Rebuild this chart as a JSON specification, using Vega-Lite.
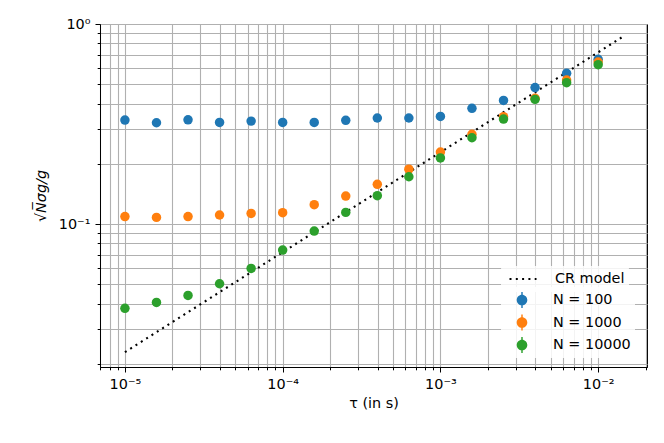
{
  "$schema": "https://vega.github.io/schema/vega-lite/v6.json",
  "width": 547,
  "height": 343,
  "autosize": {"type": "none"},
  "padding": {"left": 100, "top": 24, "right": 17, "bottom": 76},
  "background": "white",
  "config": {
    "view": {"stroke": "black", "strokeWidth": 1},
    "font": "DejaVu Sans",
    "axis": {
      "grid": true,
      "gridColor": "#b0b0b0",
      "gridWidth": 1.1,
      "domainColor": "black",
      "domainWidth": 1,
      "tickColor": "black",
      "tickWidth": 1,
      "labelFont": "DejaVu Sans",
      "labelFontSize": 14.4,
      "labelColor": "black",
      "labelOverlap": false,
      "labelFlush": false,
      "titleFont": "DejaVu Sans",
      "titleFontSize": 14.4,
      "titleFontWeight": "normal",
      "titleColor": "black"
    },
    "legend": {
      "orient": "none",
      "padding": 4,
      "clipHeight": 18,
      "rowPadding": 4.5,
      "labelFont": "DejaVu Sans",
      "labelFontSize": 14.4,
      "labelColor": "black",
      "labelLimit": 0,
      "fillColor": "rgba(255,255,255,0.85)",
      "cornerRadius": 3
    }
  },
  "layer": [
    {
      "data": {"values": [
        {"tau": 0.00001, "y": 0.0229, "series": "CR model"},
        {"tau": 0.0142, "y": 0.86, "series": "CR model"}
      ]},
      "mark": {"type": "line", "color": "black", "strokeWidth": 2.1},
      "encoding": {
        "x": {"field": "tau", "type": "quantitative"},
        "y": {"field": "y", "type": "quantitative"},
        "strokeDash": {
          "field": "series", "type": "nominal",
          "scale": {"domain": ["CR model"], "range": [[2, 4.3]]},
          "legend": {
            "title": null,
            "legendX": 401,
            "legendY": 242,
            "symbolType": "stroke",
            "symbolSize": 729,
            "symbolStrokeWidth": 2.1,
            "symbolStrokeColor": "black",
            "symbolOffset": 3,
            "labelOffset": 17
          }
        }
      }
    },
    {
      "data": {"values": [
        {"tau": 0.00001, "y": 0.331, "series": "N = 100"},
        {"tau": 0.00001585, "y": 0.321, "series": "N = 100"},
        {"tau": 0.00002512, "y": 0.332, "series": "N = 100"},
        {"tau": 0.00003981, "y": 0.322, "series": "N = 100"},
        {"tau": 0.0000631, "y": 0.327, "series": "N = 100"},
        {"tau": 0.0001, "y": 0.322, "series": "N = 100"},
        {"tau": 0.0001585, "y": 0.322, "series": "N = 100"},
        {"tau": 0.0002512, "y": 0.330, "series": "N = 100"},
        {"tau": 0.0003981, "y": 0.339, "series": "N = 100"},
        {"tau": 0.000631, "y": 0.339, "series": "N = 100"},
        {"tau": 0.001, "y": 0.345, "series": "N = 100"},
        {"tau": 0.001585, "y": 0.379, "series": "N = 100"},
        {"tau": 0.002512, "y": 0.415, "series": "N = 100"},
        {"tau": 0.003981, "y": 0.481, "series": "N = 100"},
        {"tau": 0.00631, "y": 0.567, "series": "N = 100"},
        {"tau": 0.01, "y": 0.666, "series": "N = 100"},
        {"tau": 0.00001, "y": 0.109, "series": "N = 1000"},
        {"tau": 0.00001585, "y": 0.108, "series": "N = 1000"},
        {"tau": 0.00002512, "y": 0.109, "series": "N = 1000"},
        {"tau": 0.00003981, "y": 0.111, "series": "N = 1000"},
        {"tau": 0.0000631, "y": 0.113, "series": "N = 1000"},
        {"tau": 0.0001, "y": 0.114, "series": "N = 1000"},
        {"tau": 0.0001585, "y": 0.125, "series": "N = 1000"},
        {"tau": 0.0002512, "y": 0.138, "series": "N = 1000"},
        {"tau": 0.0003981, "y": 0.158, "series": "N = 1000"},
        {"tau": 0.000631, "y": 0.188, "series": "N = 1000"},
        {"tau": 0.001, "y": 0.229, "series": "N = 1000"},
        {"tau": 0.001585, "y": 0.281, "series": "N = 1000"},
        {"tau": 0.002512, "y": 0.344, "series": "N = 1000"},
        {"tau": 0.003981, "y": 0.425, "series": "N = 1000"},
        {"tau": 0.00631, "y": 0.525, "series": "N = 1000"},
        {"tau": 0.01, "y": 0.645, "series": "N = 1000"},
        {"tau": 0.00001, "y": 0.0379, "series": "N = 10000"},
        {"tau": 0.00001585, "y": 0.0406, "series": "N = 10000"},
        {"tau": 0.00002512, "y": 0.044, "series": "N = 10000"},
        {"tau": 0.00003981, "y": 0.0503, "series": "N = 10000"},
        {"tau": 0.0000631, "y": 0.060, "series": "N = 10000"},
        {"tau": 0.0001, "y": 0.0741, "series": "N = 10000"},
        {"tau": 0.0001585, "y": 0.0923, "series": "N = 10000"},
        {"tau": 0.0002512, "y": 0.1144, "series": "N = 10000"},
        {"tau": 0.0003981, "y": 0.1386, "series": "N = 10000"},
        {"tau": 0.000631, "y": 0.1724, "series": "N = 10000"},
        {"tau": 0.001, "y": 0.214, "series": "N = 10000"},
        {"tau": 0.001585, "y": 0.270, "series": "N = 10000"},
        {"tau": 0.002512, "y": 0.335, "series": "N = 10000"},
        {"tau": 0.003981, "y": 0.420, "series": "N = 10000"},
        {"tau": 0.00631, "y": 0.509, "series": "N = 10000"},
        {"tau": 0.01, "y": 0.626, "series": "N = 10000"}
      ]},
      "mark": {"type": "circle", "size": 90, "opacity": 1},
      "encoding": {
        "x": {
          "field": "tau", "type": "quantitative",
          "scale": {"type": "log", "domain": [0.00000695, 0.0204], "nice": false},
          "axis": {
            "title": "τ (in s)",
            "titlePadding": 6,
            "values": [0.000007, 0.000008, 0.000009, 0.00001, 0.00002, 0.00003, 0.00004, 0.00005, 0.00006, 0.00007, 0.00008, 0.00009, 0.0001, 0.0002, 0.0003, 0.0004, 0.0005, 0.0006, 0.0007, 0.0008, 0.0009, 0.001, 0.002, 0.003, 0.004, 0.005, 0.006, 0.007, 0.008, 0.009, 0.01, 0.02],
            "tickSize": {"condition": {"test": "abs(log(datum.value)/LN10 - round(log(datum.value)/LN10)) < 0.001", "value": 5}, "value": 2.8},
            "labelPadding": 5,
            "labelExpr": "abs(log(datum.value)/LN10 - round(log(datum.value)/LN10)) < 0.001 ? '10' + (round(log(datum.value)/LN10) == 0 ? '⁰' : '⁻' + ['', '¹', '²', '³', '⁴', '⁵'][-round(log(datum.value)/LN10)]) : ''"
          }
        },
        "y": {
          "field": "y", "type": "quantitative",
          "scale": {"type": "log", "domain": [0.0193, 1.0], "nice": false},
          "axis": {
            "title": "√N̅σg/g",
            "titleFontStyle": "italic",
            "titlePadding": 10,
            "values": [0.02, 0.03, 0.04, 0.05, 0.06, 0.07, 0.08, 0.09, 0.1, 0.2, 0.3, 0.4, 0.5, 0.6, 0.7, 0.8, 0.9, 1],
            "tickSize": {"condition": {"test": "abs(log(datum.value)/LN10 - round(log(datum.value)/LN10)) < 0.001", "value": 5}, "value": 2.8},
            "labelPadding": 5,
            "labelExpr": "abs(log(datum.value)/LN10 - round(log(datum.value)/LN10)) < 0.001 ? '10' + (round(log(datum.value)/LN10) == 0 ? '⁰' : '⁻' + ['', '¹', '²', '³', '⁴', '⁵'][-round(log(datum.value)/LN10)]) : ''"
          }
        },
        "color": {
          "field": "series", "type": "nominal",
          "scale": {"domain": ["N = 100", "N = 1000", "N = 10000"], "range": ["#1f77b4", "#ff7f0e", "#2ca02c"]},
          "legend": {
            "title": null,
            "legendX": 401,
            "legendY": 263,
            "symbolSize": 324,
            "symbolType": "M-0.59,0A0.59,0.59 0 1,1 0.59,0A0.59,0.59 0 1,1 -0.59,0Z M-0.08,-0.89H0.08V0.89H-0.08Z",
            "symbolOffset": 7,
            "labelOffset": 21
          }
        }
      }
    }
  ]
}
